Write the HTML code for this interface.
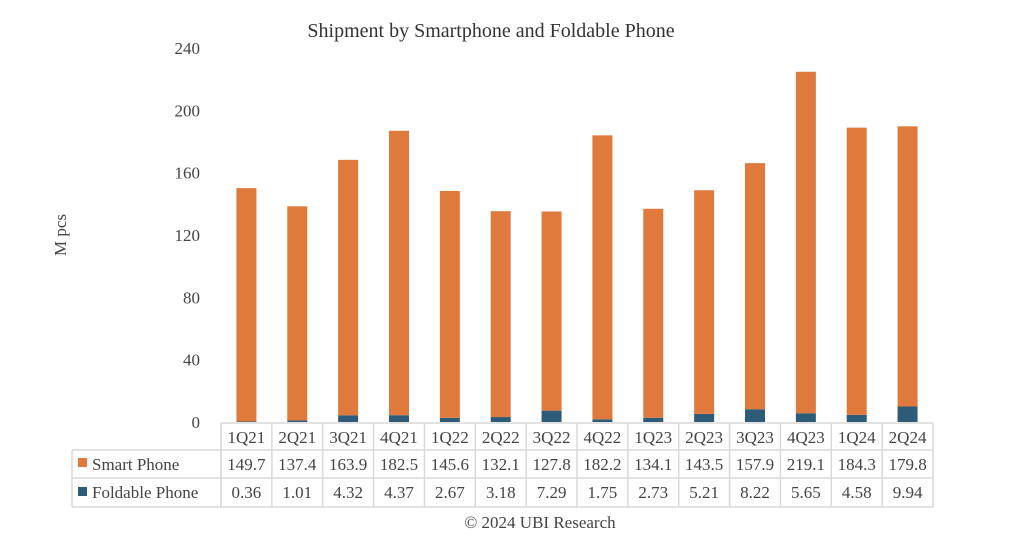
<!DOCTYPE html>
<html><head><meta charset="utf-8"><style>
body{margin:0;background:#fff;font-family:"Liberation Serif",serif;}
</style></head><body>
<svg id="chart" width="1023" height="550" xmlns="http://www.w3.org/2000/svg" style="font-family:'Liberation Serif',serif">
<text x="491" y="37" text-anchor="middle" font-size="20" fill="#333">Shipment by Smartphone and Foldable Phone</text>
<text transform="translate(66,235) rotate(-90)" text-anchor="middle" font-size="17" fill="#444">M pcs</text>
<g id="yticks"></g>
<g id="bars"></g>
<g id="table"></g>
<text x="540" y="528" text-anchor="middle" font-size="17" fill="#444">© 2024 UBI Research</text>
</svg>
<script>
const categories=["1Q21","2Q21","3Q21","4Q21","1Q22","2Q22","3Q22","4Q22","1Q23","2Q23","3Q23","4Q23","1Q24","2Q24"];
const smartPhone=[149.7,137.4,163.9,182.5,145.6,132.1,127.8,182.2,134.1,143.5,157.9,219.1,184.3,179.8];
const foldable=[0.36,1.01,4.32,4.37,2.67,3.18,7.29,1.75,2.73,5.21,8.22,5.65,4.58,9.94];
const yTicks=[0,40,80,120,160,200,240];
const NS="http://www.w3.org/2000/svg";
const x0=221,x1=933,yBase=422,yTop=48,yMax=240;
const cw=(x1-x0)/categories.length;
const y=v=>yBase-(v/yMax)*(yBase-yTop);
const xc=i=>x0+cw*(i+0.5);
function mk(tag,attrs,parent){const e=document.createElementNS(NS,tag);for(const k in attrs)e.setAttribute(k,attrs[k]);parent.appendChild(e);return e;}
const yg=document.getElementById('yticks');
yTicks.forEach(t=>{const e=mk('text',{x:200,y:y(t)+6,'text-anchor':'end','font-size':17,fill:'#444'},yg);e.textContent=t;

});
const bg=document.getElementById('bars');
const bw=20;
categories.forEach((c,i)=>{
 const f=mk('rect',{x:xc(i)-bw/2,y:y(foldable[i]),width:bw,height:yBase-y(foldable[i]),fill:'#2E5B78'},bg);
 
 
 const s=mk('rect',{x:xc(i)-bw/2,y:y(foldable[i]+smartPhone[i]),width:bw,height:y(foldable[i])-y(foldable[i]+smartPhone[i]),fill:'#DF7A3C'},bg);
 
 
});
const tg=document.getElementById('table');
const rows=[423,450,478,507],lx=72;
const st={stroke:'#d9d9d9','stroke-width':1.5};
mk('line',Object.assign({x1:x0,y1:rows[0],x2:x0,y2:rows[3]},st),tg);
for(let i=0;i<=categories.length;i++)mk('line',Object.assign({x1:x0+cw*i,y1:rows[0],x2:x0+cw*i,y2:rows[3]},st),tg);
mk('line',Object.assign({x1:lx,y1:rows[1],x2:lx,y2:rows[3]},st),tg);
mk('line',Object.assign({x1:x0,y1:rows[0],x2:x1,y2:rows[0]},st),tg);
[1,2,3].forEach(r=>mk('line',Object.assign({x1:lx,y1:rows[r],x2:x1,y2:rows[r]},st),tg));
function txt(s,x,yy,anchor,name){const e=mk('text',{x:x,y:yy,'text-anchor':anchor,'font-size':17,fill:'#444'},tg);e.textContent=s;

}
categories.forEach((c,i)=>{
 txt(c,xc(i),rows[0]+20,'middle','category-label');
 txt(smartPhone[i].toFixed(1),xc(i),rows[1]+20,'middle','smartphone-value');
 txt(foldable[i].toFixed(2),xc(i),rows[2]+20,'middle','foldable-value');
});
const k1=mk('rect',{x:78,y:458,width:9,height:9,fill:'#DF7A3C'},tg);


const k2=mk('rect',{x:78,y:487,width:9,height:9,fill:'#2E5B78'},tg);


txt('Smart Phone',92,rows[1]+20,'start','legend-smartphone');
txt('Foldable Phone',92,rows[2]+20,'start','legend-foldable');
</script>
</body></html>
